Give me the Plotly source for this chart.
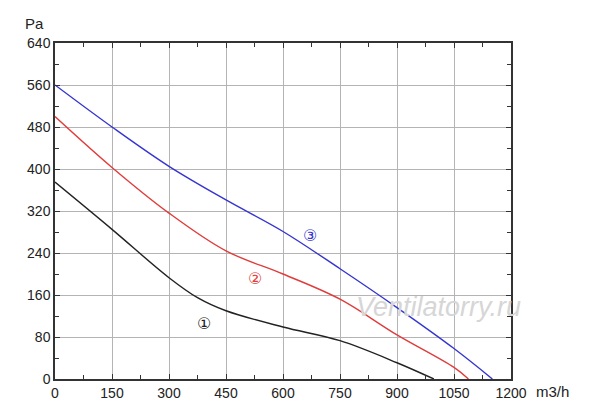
import plotly.graph_objects as go

# Curve 1 (black)
x1 = [0, 150, 300, 375, 450, 600, 750, 900, 997]
y1 = [375, 285, 193, 155, 130, 99, 73, 31, 0]
# Curve 2 (red)
x2 = [0, 150, 300, 450, 600, 750, 900, 1050, 1088]
y2 = [500, 403, 316, 244, 200, 152, 84, 22, 0]
# Curve 3 (blue)
x3 = [0, 150, 300, 450, 600, 750, 900, 1050, 1151]
y3 = [560, 480, 405, 341, 281, 210, 136, 58, 0]

labels = ["①", "②", "③"]
label_x = [392, 526, 671]
label_y = [105, 191, 274]
colors = ["#222222", "#e03c3c", "#3535d0"]

x_ticks = [0, 150, 300, 450, 600, 750, 900, 1050, 1200]
y_ticks = [0, 80, 160, 240, 320, 400, 480, 560, 640]

fig = go.Figure()
for xs, ys, c in [(x1, y1, colors[0]), (x2, y2, colors[1]), (x3, y3, colors[2])]:
    fig.add_trace(go.Scatter(x=xs, y=ys, mode="lines",
                             line=dict(color=c, width=1.4, shape="spline", smoothing=1.0),
                             showlegend=False, hoverinfo="skip"))

for t, lx, ly, c in zip(labels, label_x, label_y, colors):
    fig.add_annotation(x=lx, y=ly, text=t, showarrow=False,
                       font=dict(size=16, color=c, family="DejaVu Sans"))

fig.add_annotation(x=1008, y=137, text="Ventilatorry.ru", showarrow=False,
                   xanchor="center", yanchor="middle",
                   font=dict(size=27, color="#d6d6d6", family="Liberation Sans", style="italic"))

fig.add_annotation(xref="paper", yref="paper", x=-0.044, y=1.057, text="Pa",
                   xanchor="center", yanchor="middle",
                   showarrow=False, font=dict(size=15, color="#222", family="Liberation Sans"))
fig.add_annotation(xref="paper", yref="paper", x=1.09, y=-0.036, text="m3/h",
                   xanchor="center", yanchor="middle",
                   showarrow=False, font=dict(size=15, color="#222", family="Liberation Sans"))

axis_common = dict(showline=True, linecolor="#333", linewidth=1.5, mirror="ticks",
                   ticks="inside", ticklen=5, tickcolor="#333", showgrid=True,
                   gridcolor="#b4b4b4", gridwidth=1, zeroline=False,
                   tickfont=dict(size=14, color="#222", family="Liberation Sans"))

fig.update_xaxes(range=[0, 1200], tickvals=x_ticks, ticktext=[str(v) for v in x_ticks],
                 minor=dict(dtick=75, tick0=0, ticks="inside", ticklen=4, tickcolor="#333", showgrid=False),
                 **axis_common)
fig.update_yaxes(range=[0, 640], tickvals=y_ticks, ticktext=[str(v) for v in y_ticks],
                 minor=dict(dtick=40, tick0=0, ticks="inside", ticklen=4, tickcolor="#333", showgrid=False),
                 **axis_common)

fig.update_layout(width=600, height=414, margin=dict(l=47, r=97, t=35, b=43),
                  plot_bgcolor="white", paper_bgcolor="white")

fig.write_html("out.html")
